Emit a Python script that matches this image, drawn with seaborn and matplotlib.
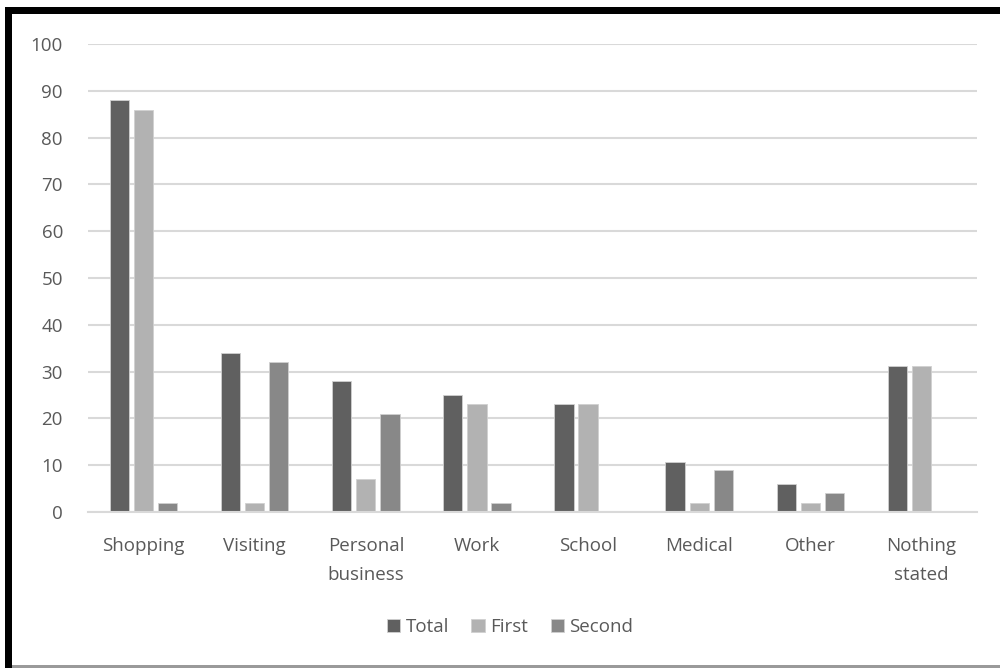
import matplotlib
matplotlib.use("Agg")
import matplotlib.pyplot as plt
from matplotlib.patches import Rectangle
import pandas as pd
import seaborn as sns

categories = ["Shopping", "Visiting", "Personal\nbusiness", "Work", "School",
              "Medical", "Other", "Nothing\nstated"]
total = [88, 34, 28, 25, 23, 10.6, 6, 31.2]
first = [86, 2, 7, 23, 23, 2, 2, 31.2]
second = [2, 32, 21, 2, 0, 9, 4, 0]
series = ["Total", "First", "Second"]
colors = ["#606060", "#b2b2b2", "#888888"]
yticks = list(range(0, 101, 10))

df = pd.DataFrame({"Category": categories, "Total": total,
                   "First": first, "Second": second})
long = df.melt(id_vars="Category", value_vars=series,
               var_name="Series", value_name="Value")

sns.set_theme(style="white")
plt.rcParams["font.family"] = ["Open Sans", "DejaVu Sans"]

fig = plt.figure(figsize=(10, 6.68), dpi=100)
ax = fig.add_axes([0.088, 0.2335, 0.889, 0.7005])

sns.barplot(data=long, x="Category", y="Value", hue="Series",
            order=categories, hue_order=series, palette=colors,
            width=0.65, gap=0.2, dodge=True, ax=ax,
            edgecolor="#d0d0d0", linewidth=0.6, legend=True)

ax.set_ylim(0, 100)
ax.set_yticks(yticks)
ax.set_xlim(-0.5, len(categories) - 0.5)
ax.yaxis.grid(True, color="#d9d9d9", linewidth=1.5)
ax.set_axisbelow(True)
for side in ["top", "right", "left"]:
    ax.spines[side].set_visible(False)
ax.spines["bottom"].set_color("#d9d9d9")
ax.spines["bottom"].set_linewidth(1.5)
ax.set_xlabel("")
ax.set_ylabel("")
ax.tick_params(axis="y", length=0, pad=18, labelsize=13.5, labelcolor="#595959")
ax.tick_params(axis="x", length=0, pad=18, labelsize=13.5, labelcolor="#595959")
for lbl in ax.get_xticklabels():
    lbl.set_linespacing(1.75)

handles, labels = ax.get_legend_handles_labels()
ax.get_legend().remove()
fig.legend(handles, labels, loc="center", bbox_to_anchor=(0.51, 0.061),
           ncol=3, frameon=False, fontsize=13.5, labelcolor="#595959",
           handlelength=0.7, handleheight=0.7, handletextpad=0.3,
           columnspacing=1.2)

# frame around the chart
W, H = 1000, 668
fig.add_artist(Rectangle((5 / W, 0), 7 / W, 1 - 7 / H, transform=fig.transFigure,
                         facecolor="black", edgecolor="none"))
fig.add_artist(Rectangle((5 / W, 1 - 14 / H), 1, 7 / H, transform=fig.transFigure,
                         facecolor="black", edgecolor="none"))
fig.add_artist(Rectangle((12 / W, 0), 1, 3 / H, transform=fig.transFigure,
                         facecolor="#9a9a9a", edgecolor="none"))

fig.savefig("out.png", dpi=100, facecolor="white")
